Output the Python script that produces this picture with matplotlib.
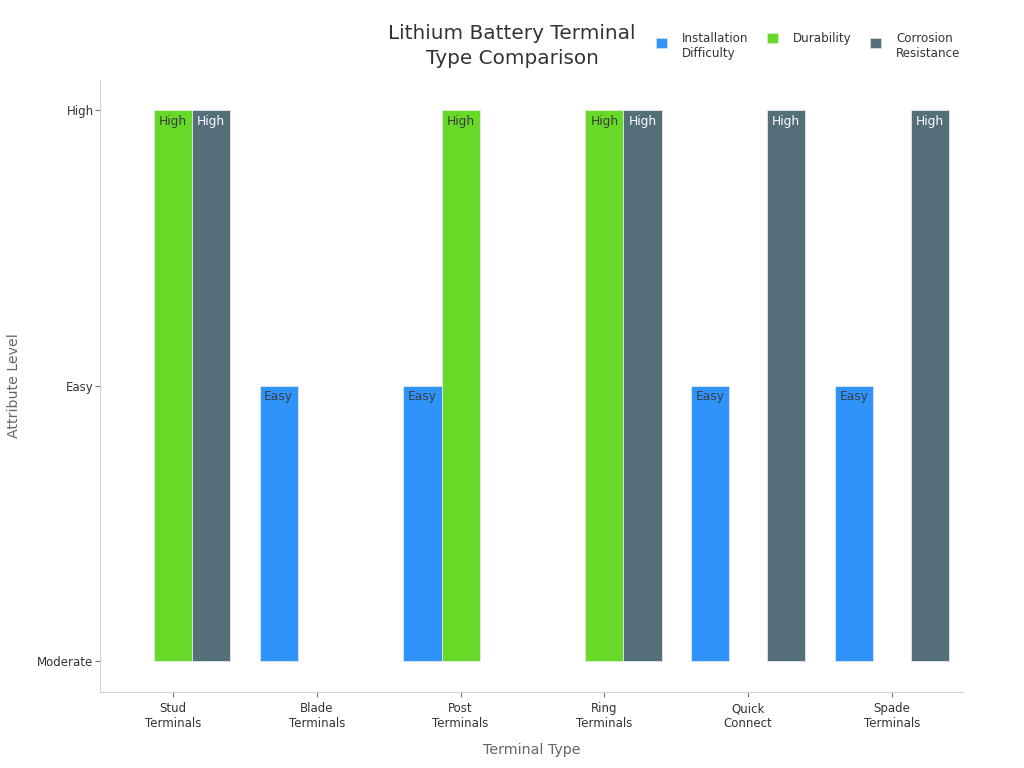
import matplotlib
matplotlib.use("Agg")
import matplotlib.pyplot as plt
import numpy as np

categories = ["Stud\nTerminals", "Blade\nTerminals", "Post\nTerminals", "Ring\nTerminals", "Quick\nConnect", "Spade\nTerminals"]
levels = ["Moderate", "Easy", "High"]

# 0 = Moderate, 1 = Easy, 2 = High
installation = [0, 1, 1, 0, 1, 1]
durability = [2, 0, 2, 2, 0, 0]
corrosion = [2, 0, 0, 2, 2, 2]

series = [
    ("Installation\nDifficulty", installation, "#2e93fa", "#3d3d3d"),
    ("Durability", durability, "#66da26", "#3d3d3d"),
    ("Corrosion\nResistance", corrosion, "#546e7a", "white"),
]

BAR_W = 0.265
LEGEND_X = [656, 767, 870]   # left edge of each legend entry, px
LEGEND_Y = 32

fig = plt.figure(figsize=(10.24, 7.68), dpi=100)
ax = fig.add_axes([100 / 1024, 1 - 692 / 768, 863 / 1024, 612 / 768])

x = np.arange(len(categories))
for i, (name, vals, color, txt) in enumerate(series):
    off = (i - 1) * BAR_W
    vals = np.array(vals)
    keep = vals > 0   # moderate sits on the baseline, no visible bar
    ax.bar(x[keep] + off, vals[keep], BAR_W, color=color, edgecolor="#e4e8ec", linewidth=0.6)
    for xi, v in zip(x[keep], vals[keep]):
        ax.annotate(levels[v], (xi + off, v), xytext=(0, -3.5), textcoords="offset points",
                    ha="center", va="top", fontsize=8.8, color=txt)

ax.set_xlim(-0.508, 5.494)
ax.set_ylim(-0.1125, 2.109)
ax.set_xticks(x, categories)
ax.set_yticks([0, 1, 2], levels)
ax.tick_params(axis="both", labelsize=8.5, labelcolor="#333333", color="#777777", length=3.6, width=0.8, pad=1)
ax.tick_params(axis="x", pad=3.6)
for s in ["top", "right"]:
    ax.spines[s].set_visible(False)
for s in ["left", "bottom"]:
    ax.spines[s].set_color("#d4d4d4")

ax.set_xlabel("Terminal Type", fontsize=10.3, color="#666666")
ax.xaxis.set_label_coords(432 / 863, -58 / 612, transform=ax.transAxes)
ax.xaxis.label.set_va("center")
ax.set_ylabel("Attribute Level", fontsize=10.2, color="#666666")
ax.yaxis.set_label_coords(-86 / 863, 0.5)
ax.yaxis.label.set_va("center")

fig.text(512 / 1024, 1 - 46 / 768, "Lithium Battery Terminal\nType Comparison", ha="center", va="center",
         fontsize=14.4, color="#333333", linespacing=1.42)

# separate legends so single-line entry stays level with the first line of the others
for (name, vals, color, txt), lx in zip(series, LEGEND_X):
    handle = plt.Rectangle((0, 0), 1, 1, facecolor=color, edgecolor="#e4e8ec", linewidth=0.4)
    leg = fig.legend([handle], [name], loc="upper left", bbox_to_anchor=(lx / 1024, 1 - LEGEND_Y / 768),
                     frameon=False, fontsize=8.6, handlelength=0.92, handleheight=0.92, handletextpad=1.26,
                     borderpad=0, borderaxespad=0, labelcolor="#333333")
    if "\n" in name:
        # two-line entries: centre the swatch on the text block
        leg.legend_handles[0].set_y(2.4)

fig.savefig("out.png", dpi=100)
